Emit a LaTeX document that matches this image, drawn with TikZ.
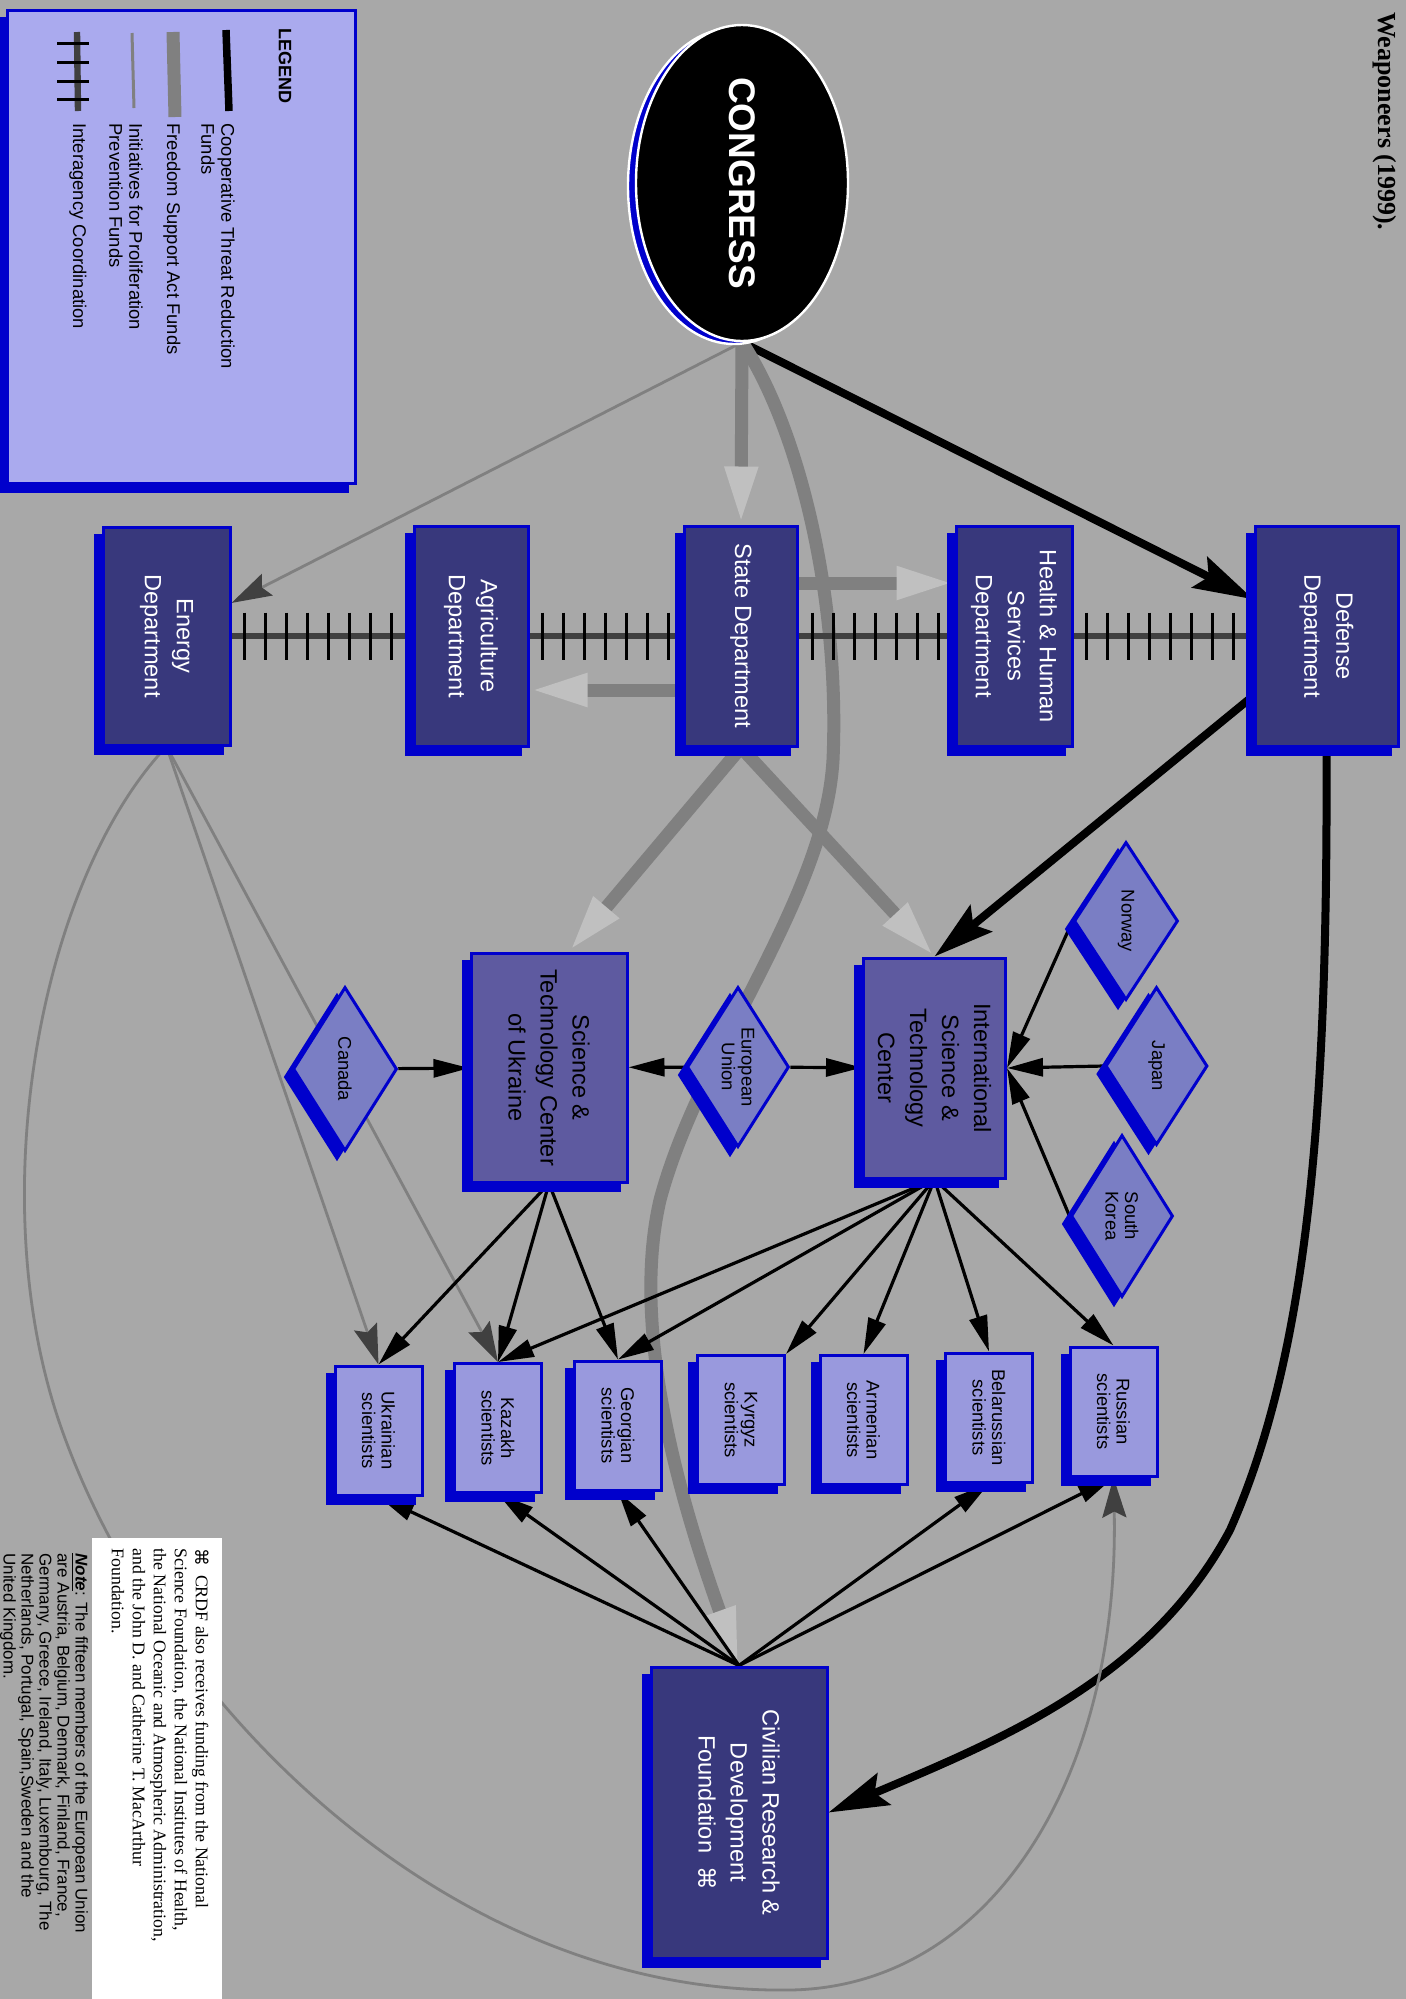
\documentclass[tikz,border=0pt]{standalone}
\usepackage{fontspec}
\setmainfont{Liberation Sans}
\newfontfamily\serifnote{Liberation Serif}
\newfontfamily\cmdsym{DejaVu Sans}
\usepackage{tikz}
\usetikzlibrary{shapes.geometric}
\usetikzlibrary{arrows.meta}
\usetikzlibrary{decorations.pathreplacing}
\definecolor{bggray}{RGB}{168,168,168}
\definecolor{bordblue}{RGB}{0,0,204}
\definecolor{deptfill}{RGB}{56,56,124}
\definecolor{ctrfill}{RGB}{94,90,160}
\definecolor{scifill}{RGB}{153,153,221}
\definecolor{diafill}{RGB}{122,126,196}
\definecolor{legfill}{RGB}{170,170,238}
\definecolor{fsagray}{RGB}{128,128,128}
\definecolor{fsatip}{RGB}{192,192,192}
\definecolor{ippgray}{RGB}{64,64,64}
\newcommand{\crdfmark}{{\cmdsym ⌘}}
\pgfdeclarelayer{back}
\pgfdeclarelayer{edges}
\pgfsetlayers{back,edges,main}
\tikzset{ shadowed/.style = {preaction={fill=bordblue, draw=bordblue, transform canvas={xshift=-4pt, yshift=-4pt}}} }
\tikzset{ dept_box/.style = {rectangle, rotate=-90, shadowed, draw=bordblue, line width=1.5pt, fill=deptfill, text=white, align=center, inner sep=0pt, font=\fontsize{11.8}{16}\selectfont} }
\tikzset{ center_box/.style = {dept_box, fill=ctrfill, text=black} }
\tikzset{ sci_box/.style = {dept_box, fill=scifill, text=black, font=\fontsize{9.2}{9.8}\selectfont, minimum width=64.5pt, minimum height=43.5pt} }
\tikzset{ country_dia/.style = {diamond, aspect=1.6, rotate=-90, shadowed, draw=bordblue, line width=1.5pt, fill=diafill, align=center, inner sep=0pt, font=\fontsize{9.2}{9.8}\selectfont} }
\tikzset{ congress_oval/.style = {ellipse, rotate=-90, fill=black, draw=white, line width=1.2pt, text=white, inner sep=0pt, font=\fontsize{18.5}{22}\bfseries, preaction={fill=bordblue, draw=white, transform canvas={xshift=-4pt, yshift=-1.5pt}}} }
\tikzset{ legend_box/.style = {rectangle, shadowed, draw=bordblue, line width=1.5pt, fill=legfill, minimum width=174pt, minimum height=236.5pt} }
\tikzset{ legend_text/.style = {rotate=-90, anchor=west, align=left, inner sep=0pt, font=\fontsize{9.2}{10}\selectfont} }
\tikzset{ note_text/.style = {rotate=-90, anchor=west, align=left, inner sep=0pt} }
\tikzset{ ctr_line/.style = {draw=black, line width=4pt, -{Stealth[length=30pt, width=17pt, inset=5pt]}} }
\tikzset{ fsa_line/.style = {draw=fsagray, line width=6.5pt, -{Triangle[length=29pt, width=15pt, color=fsatip]}} }
\tikzset{ ipp_line/.style = {draw=fsagray, line width=1.4pt, -{Stealth[length=20pt, width=12pt, inset=3pt, color=ippgray]}} }
\tikzset{ link_line/.style = {draw=black, line width=1.6pt, -{Triangle[length=18pt, width=9pt]}} }
\tikzset{ interagency/.style = {draw=ippgray, line width=3.2pt, postaction={draw=black, line width=1.5pt, decorate, decoration={ticks, segment length=10.5pt, amplitude=11.75pt, pre=moveto, pre length=6.5pt, post=moveto, post length=6pt}}} }

\begin{document}
\begin{tikzpicture}[x=0.5pt,y=-0.5pt]
    \useasboundingbox (0,0) rectangle (1406,1999);
    \begin{pgfonlayer}{back}
        \fill [bggray] (0,0) rectangle (1406,1999);
    \end{pgfonlayer}

    % legend
    \node [style=legend_box] (legend) at (181,246.5) {};
    \node [style=legend_text, font=\fontsize{9}{10}\bfseries] (legtitle) at (285,28) {LEGEND};
    \draw [black, line width=3.75pt] (226,30) -- (229,111);
    \draw [fsagray, line width=6.5pt] (173,32) -- (175,117);
    \draw [fsagray, line width=1.5pt] (132,33) -- (134,108);
    \draw [ippgray, line width=3.2pt] (77,32) -- (78,111);
    \draw [black, line width=1.5pt] (57,43) -- (89,43) (57,62) -- (89,62) (57,81) -- (89,81) (57,99) -- (89,99);
    \node [style=legend_text] (ctrkey) at (218,123) {Cooperative Threat Reduction\\Funds};
    \node [style=legend_text] (fsakey) at (172,123) {Freedom Support Act Funds};
    \node [style=legend_text] (ippkey) at (126,123) {Initiatives for Proliferation\\Prevention Funds};
    \node [style=legend_text] (iakey) at (78,123) {Interagency Coordination};

    % congress and departments
    \node [style=congress_oval, minimum width=158pt, minimum height=106pt] (congress) at (742,183) {CONGRESS};
    \node [style=dept_box, minimum width=109pt, minimum height=63.5pt] (energy) at (166.5,636) {Energy\\Department};
    \node [style=dept_box, minimum width=110pt, minimum height=57pt] (agri) at (471,636) {Agriculture\\Department};
    \node [style=dept_box, minimum width=110pt, minimum height=56.5pt] (state) at (741,636) {State Department};
    \node [style=dept_box, minimum width=110pt, minimum height=58pt] (health) at (1014,636) {Health \& Human\\Services\\Department};
    \node [style=dept_box, minimum width=110pt, minimum height=71.5pt] (defense) at (1326.5,636) {Defense\\Department};

    % science centers and partners
    \node [style=center_box, minimum width=114.5pt, minimum height=78pt] (stcu) at (549,1067.5) {Science \&\\Technology Center\\of Ukraine};
    \node [style=center_box, minimum width=110pt, minimum height=71pt] (istc) at (934.5,1068) {International\\Science \&\\Technology\\Center};
    \node [style=country_dia, minimum width=80pt, minimum height=51pt] (eu) at (738,1067) {European\\Union};
    \node [style=country_dia, minimum width=82pt, minimum height=52pt] (canada) at (345,1069) {Canada};
    \node [style=country_dia, minimum width=79pt, minimum height=52pt] (norway) at (1126,921) {Norway};
    \node [style=country_dia, minimum width=79pt, minimum height=51pt] (japan) at (1156.5,1066) {Japan};
    \node [style=country_dia, minimum width=81pt, minimum height=51pt] (skorea) at (1122,1216) {South\\Korea};

    % scientists
    \node [style=sci_box] (ukr) at (378.5,1430.5) {Ukrainian\\scientists};
    \node [style=sci_box] (kaz) at (498,1428) {Kazakh\\scientists};
    \node [style=sci_box] (geo) at (618,1425.5) {Georgian\\scientists};
    \node [style=sci_box] (kyr) at (741,1420) {Kyrgyz\\scientists};
    \node [style=sci_box] (arm) at (863.5,1420) {Armenian\\scientists};
    \node [style=sci_box] (bel) at (989,1417.5) {Belarussian\\scientists};
    \node [style=sci_box] (rus) at (1113.5,1411.5) {Russian\\scientists};

    \node [style=dept_box, minimum width=145.5pt, minimum height=88pt] (crdf) at (739,1812.5) {Civilian Research \&\\Development\\Foundation\ \ \crdfmark};

    \begin{pgfonlayer}{edges}
        % funds out of congress
        \draw [style=ctr_line] (congress.east) -- (defense);
        \draw [style=fsa_line] (congress.east) -- (state.west);
        \draw [style=ipp_line] (congress.east) -- (energy);
        \draw [style=fsa_line] (congress.east) .. controls (800,430) and (840,600) .. (833,760) .. controls (825,900) and (700,1050) .. (660,1200) .. controls (630,1330) and (680,1500) .. (crdf.west);
        % state and defense
        \draw [style=fsa_line] ([yshift=26.5pt]state.north) -- ([yshift=26.5pt]health.south);
        \draw [style=fsa_line] ([yshift=-27pt]state.south) -- ([yshift=-27pt]agri.north);
        \draw [style=fsa_line] (state.east) -- ([xshift=10pt]stcu.west);
        \draw [style=fsa_line] (state.east) -- (istc.west);
        \draw [style=ctr_line] (defense) -- (istc.west);
        \draw [style=ctr_line] (defense.east) .. controls (1328,1100) and (1310,1350) .. (1230,1530) .. controls (1150,1680) and (1000,1740) .. (crdf.north);
        % interagency
        \draw [style=interagency] (energy) -- (agri);
        \draw [style=interagency] (agri) -- (state);
        \draw [style=interagency] (state) -- (health);
        \draw [style=interagency] (health) -- (defense);
        % energy ipp
        \draw [style=ipp_line] (energy.east) -- (ukr.west);
        \draw [style=ipp_line] (energy.east) -- (kaz.west);
        \draw [style=ipp_line] (energy.east) .. controls (40,880) and (-20,1200) .. (62,1430) .. controls (160,1706) and (450,1995) .. (790,1990) .. controls (990,1987) and (1120,1780) .. (rus.east);
        % partners
        \draw [style=link_line] (canada) -- (stcu);
        \draw [style=link_line] (eu) -- (stcu);
        \draw [style=link_line] (eu) -- (istc);
        \draw [style=link_line] (norway.south) -- (istc.north);
        \draw [style=link_line] (japan.south) -- (istc.north);
        \draw [style=link_line] (skorea.south) -- (istc.north);
        % to scientists
        \draw [style=link_line] (istc.east) -- (kaz.west);
        \draw [style=link_line] (istc.east) -- (geo.west);
        \draw [style=link_line] (istc.east) -- (kyr.north west);
        \draw [style=link_line] (istc.east) -- (arm.west);
        \draw [style=link_line] (istc.east) -- (bel.west);
        \draw [style=link_line] (istc.east) -- (rus.west);
        \draw [style=link_line] (stcu.east) -- (ukr.west);
        \draw [style=link_line] (stcu.east) -- (kaz.west);
        \draw [style=link_line] (stcu.east) -- (geo.west);
        \draw [style=link_line] (crdf.west) -- (ukr.east);
        \draw [style=link_line] (crdf.west) -- (kaz.east);
        \draw [style=link_line] (crdf.west) -- (geo.east);
        \draw [style=link_line] (crdf.west) -- (bel.east);
        \draw [style=link_line] (crdf.west) -- (rus.east);
    \end{pgfonlayer}

    % notes
    \fill [white] (92,1538) rectangle (222,2010);
    \node [style=note_text, font=\serifnote\fontsize{8.9}{10.5}\selectfont] (crdfnote) at (160.5,1548) {\crdfmark\ \ CRDF also receives funding from the National\\Science Foundation, the National Institutes of Health,\\the National Oceanic and Atmospheric Administration,\\and the John D. and Catherine T. MacArthur\\Foundation.};
    \node [style=note_text, font=\fontsize{8.5}{9}\selectfont] (eunote) at (44,1553) {\underline{\textbf{\textit{Note}}}: The fifteen members of the European Union\\are Austria, Belgium, Denmark, Finland, France,\\Germany, Greece, Ireland, Italy, Luxembourg, The\\Netherlands, Portugal, Spain,Sweden and the\\United Kingdom.};
    \node [style=note_text, font=\serifnote\bfseries\fontsize{13}{15}\selectfont] (source) at (1385,12) {Weaponeers (1999).};
\end{tikzpicture}
\end{document}
